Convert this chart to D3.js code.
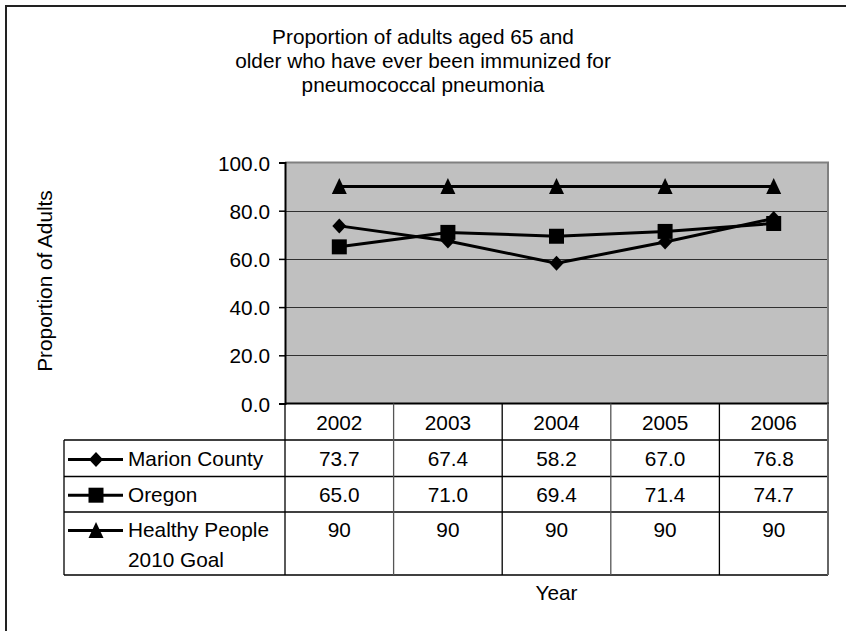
<!DOCTYPE html>
<html>
<head>
<meta charset="utf-8">
<script src="https://cdn.jsdelivr.net/npm/d3@7"></script>
<style>
  html, body { margin: 0; padding: 0; background: #fff; }
  svg { display: block; }
  text { font-family: "Liberation Sans", Arial, sans-serif; fill: #000; }
</style>
</head>
<body>
<script>
const years = ["2002", "2003", "2004", "2005", "2006"];
const marion = [73.7, 67.4, 58.2, 67.0, 76.8];
const oregon = [65.0, 71.0, 69.4, 71.4, 74.7];
const goal = [90, 90, 90, 90, 90];
const yTicks = [0, 20, 40, 60, 80, 100];
const titleLines = ["Proportion of adults aged 65 and", "older who have ever been immunized for", "pneumococcal pneumonia"];
const seriesNames = [["Marion County"], ["Oregon"], ["Healthy People", "2010 Goal"]];

(function () {
const W = 846, H = 631, FS = 20.8;
const svg = d3.select("body").append("svg").attr("width", W).attr("height", H);

// outer frame
svg.append("rect").attr("x", 6).attr("y", 6).attr("width", 900).attr("height", 700)
  .attr("fill", "none").attr("stroke", "#222").attr("stroke-width", 2);

// title
svg.append("g").selectAll("text").data(titleLines).join("text")
  .attr("x", 423).attr("y", (d, i) => 44 + i * 24)
  .attr("text-anchor", "middle").style("font-size", FS + "px").text(d => d);

const pL = 285, pR = 828, pT = 162.5, pB = 403.5;
const x = d3.scaleBand().domain(years).range([pL, pR]);
const y = d3.scaleLinear().domain([0, 100]).range([pB, pT]);

// plot background
svg.append("rect").attr("x", pL).attr("y", pT).attr("width", pR - pL).attr("height", pB - pT)
  .attr("fill", "#c0c0c0");

// gridlines
svg.append("g").selectAll("line").data(yTicks.filter(t => t > 0 && t < 100)).join("line")
  .attr("x1", pL).attr("x2", pR).attr("y1", d => Math.round(y(d)) + 0.5).attr("y2", d => Math.round(y(d)) + 0.5)
  .attr("stroke", "#303030").attr("stroke-width", 1);

// plot border top/right gray
svg.append("path").attr("d", `M${pL},${pT}H${pR}V${pB}`)
  .attr("fill", "none").attr("stroke", "#808080").attr("stroke-width", 2);

// y axis
const yAxis = d3.axisLeft(y).tickValues(yTicks).tickFormat(d3.format(".1f")).tickSize(6).tickPadding(9);
const ga = svg.append("g").attr("transform", `translate(${pL},0)`).call(yAxis);
ga.select(".domain").attr("stroke", "#000").attr("stroke-width", 2);
ga.selectAll(".tick line").attr("stroke", "#000").attr("stroke-width", 1.5);
ga.selectAll(".tick text").style("font-size", FS + "px").attr("dy", "0.36em")
  .style("font-family", '"Liberation Sans", Arial, sans-serif').attr("fill", "#000");

// y axis title
svg.append("text").attr("transform", `translate(51.5,281) rotate(-90)`)
  .attr("text-anchor", "middle").style("font-size", FS + "px").text("Proportion of Adults");

// markers
function markerPath(type, cx, cy) {
  if (type === 0) { // diamond
    return `M${cx},${cy - 7.5}L${cx + 7},${cy}L${cx},${cy + 7.5}L${cx - 7},${cy}Z`;
  } else if (type === 1) { // square
    return `M${cx - 7.5},${cy - 7.5}h15v15h-15Z`;
  } else { // triangle
    return `M${cx},${cy - 8.5}L${cx + 7.5},${cy + 7.5}L${cx - 7.5},${cy + 7.5}Z`;
  }
}

const allSeries = [marion, oregon, goal];
const line = d3.line().x((d, i) => x(years[i]) + x.bandwidth() / 2).y(d => y(d));
allSeries.forEach((s, k) => {
  svg.append("path").datum(s).attr("d", line).attr("fill", "none")
    .attr("stroke", "#000").attr("stroke-width", 3).attr("stroke-linejoin", "round");
  svg.append("g").selectAll("path").data(s).join("path")
    .attr("d", (d, i) => markerPath(k, x(years[i]) + x.bandwidth() / 2, y(d)))
    .attr("fill", "#000");
});

// bottom axis line
svg.append("line").attr("x1", pL).attr("x2", pR + 1).attr("y1", pB).attr("y2", pB)
  .attr("stroke", "#000").attr("stroke-width", 2);

// data table
const tableLeft = 64;
const rowEdges = [pB, 440, 476.5, 512, 575];
const tg = svg.append("g");
rowEdges.slice(1).forEach(ry => {
  tg.append("line").attr("x1", tableLeft).attr("x2", pR).attr("y1", ry).attr("y2", ry)
    .attr("stroke", "#000").attr("stroke-width", 1.3);
});
tg.append("line").attr("x1", tableLeft).attr("x2", tableLeft).attr("y1", 440).attr("y2", 575)
  .attr("stroke", "#000").attr("stroke-width", 1.3);
years.forEach((yr, i) => {
  tg.append("line").attr("x1", x(yr)).attr("x2", x(yr)).attr("y1", pB).attr("y2", 575)
    .attr("stroke", i % 2 === 0 ? "#000" : "#555").attr("stroke-width", 1.3);
});
tg.append("line").attr("x1", pR).attr("x2", pR).attr("y1", pB).attr("y2", 575)
  .attr("stroke", "#666").attr("stroke-width", 2);

// header year labels
tg.selectAll("text.yr").data(years).join("text").attr("class", "yr")
  .attr("x", d => x(d) + x.bandwidth() / 2).attr("y", 429.5)
  .attr("text-anchor", "middle").style("font-size", FS + "px").text(d => d);

// values and legend keys
const rowBase = [466, 501.7, 537];
const fmts = [d3.format(".1f"), d3.format(".1f"), d3.format("d")];
allSeries.forEach((s, k) => {
  tg.append("g").selectAll("text").data(s).join("text")
    .attr("x", (d, i) => x(years[i]) + x.bandwidth() / 2).attr("y", rowBase[k])
    .attr("text-anchor", "middle").style("font-size", FS + "px").text(d => fmts[k](d));
  const ky = rowBase[k] - 6.5;
  tg.append("line").attr("x1", 68).attr("x2", 123).attr("y1", ky).attr("y2", ky)
    .attr("stroke", "#000").attr("stroke-width", 3);
  tg.append("path").attr("d", markerPath(k, 96, ky)).attr("fill", "#000");
  seriesNames[k].forEach((nm, j) => {
    tg.append("text").attr("x", 128).attr("y", rowBase[k] + j * 29.7)
      .style("font-size", FS + "px").text(nm);
  });
});

// x axis title
svg.append("text").attr("x", (pL + pR) / 2).attr("y", 600)
  .attr("text-anchor", "middle").style("font-size", FS + "px").text("Year");
})();
</script>
</body>
</html>
